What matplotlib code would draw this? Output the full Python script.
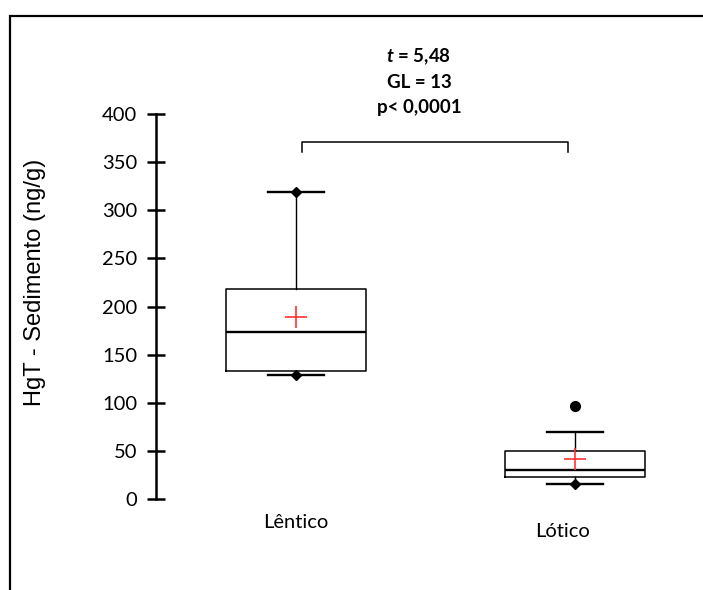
import matplotlib
matplotlib.use("Agg")
import matplotlib.pyplot as plt
from matplotlib.patches import Rectangle

plt.rcParams['mathtext.fontset'] = 'custom'
plt.rcParams['mathtext.it'] = 'Lato:italic:bold'
plt.rcParams['mathtext.rm'] = 'Lato:bold'

categories = ["Lêntico", "Lótico"]
medians = [173, 30.5]
q1 = [133, 23]
q3 = [218, 50]
whisker_low = [129, 16]
whisker_high = [319, 70]
means = [189, 42]
outliers = [[], [97]]
yticks = [0, 50, 100, 150, 200, 250, 300, 350, 400]
stats_lines = [r"$t$ = 5,48", "GL = 13", "p< 0,0001"]
ylabel = "HgT - Sedimento (ng/g)"

W, H = 703, 590
fig = plt.figure(figsize=(W / 100, H / 100), dpi=100)

def fx(px):
    return px / W

def fy(py):
    return 1 - py / H

# outer frame
fig.patches.append(Rectangle((fx(9.5), -0.05), 1.2, fy(15.5) + 0.05, transform=fig.transFigure,
                             fill=False, edgecolor='black', linewidth=1.6))

ax = fig.add_axes([fx(156), fy(499), 1 - fx(156), fy(114) - fy(499)])
ax.set_ylim(0, 400)
ax.set_xlim(0.498, 2.459)

stats = []
for i in range(len(categories)):
    stats.append(dict(med=medians[i], q1=q1[i], q3=q3[i], whislo=whisker_low[i],
                      whishi=whisker_high[i], mean=means[i], fliers=outliers[i], label=categories[i]))

pos = [1, 2]
ax.bxp(stats, positions=pos, widths=0.502, showmeans=True, showfliers=True,
       boxprops=dict(color='black', linewidth=1.1),
       medianprops=dict(color='black', linewidth=1.7),
       whiskerprops=dict(color='black', linewidth=1.0),
       capprops=dict(color='black', linewidth=1.7),
       capwidths=0.2,
       meanprops=dict(marker='+', markeredgecolor='#ff3333', markersize=16, markeredgewidth=1.2),
       flierprops=dict(marker='o', markerfacecolor='black', markeredgecolor='black', markersize=7))

# diamonds at min/max (when not outliers)
for i in range(len(categories)):
    ax.plot(pos[i], whisker_low[i], marker='D', color='black', markersize=5.5, clip_on=False)
    if not outliers[i]:
        ax.plot(pos[i], whisker_high[i], marker='D', color='black', markersize=5.5, clip_on=False)

# bracket
ax.plot([1.022, 1.022, 1.975, 1.975], [361, 371, 371, 361], color='black', linewidth=1.1, clip_on=False)

for sp in ['top', 'right', 'bottom']:
    ax.spines[sp].set_visible(False)
ax.spines['left'].set_linewidth(1.8)
ax.set_yticks(yticks)
ax.tick_params(axis='y', direction='inout', length=13, width=1.8, pad=7, labelsize=14.5)
for lab in ax.get_yticklabels():
    lab.set_fontfamily('Lato')
ax.set_xticks([])

# category labels
ax.text(1, -24, categories[0], ha='center', va='center', fontsize=14.5, family='Lato', clip_on=False)
ax.text(1.955, -34, categories[1], ha='center', va='center', fontsize=14.5, family='Lato', clip_on=False)

fig.text(fx(35), fy(282), ylabel, rotation=90, ha='center', va='center', fontsize=17,
         family='Liberation Sans')

for k, line in enumerate(stats_lines):
    fig.text(fx(419), fy(57 + 25 * k), line, ha='center', va='center', fontsize=13.5,
             family='Lato', fontweight='bold')

fig.savefig('out.png', dpi=100)
